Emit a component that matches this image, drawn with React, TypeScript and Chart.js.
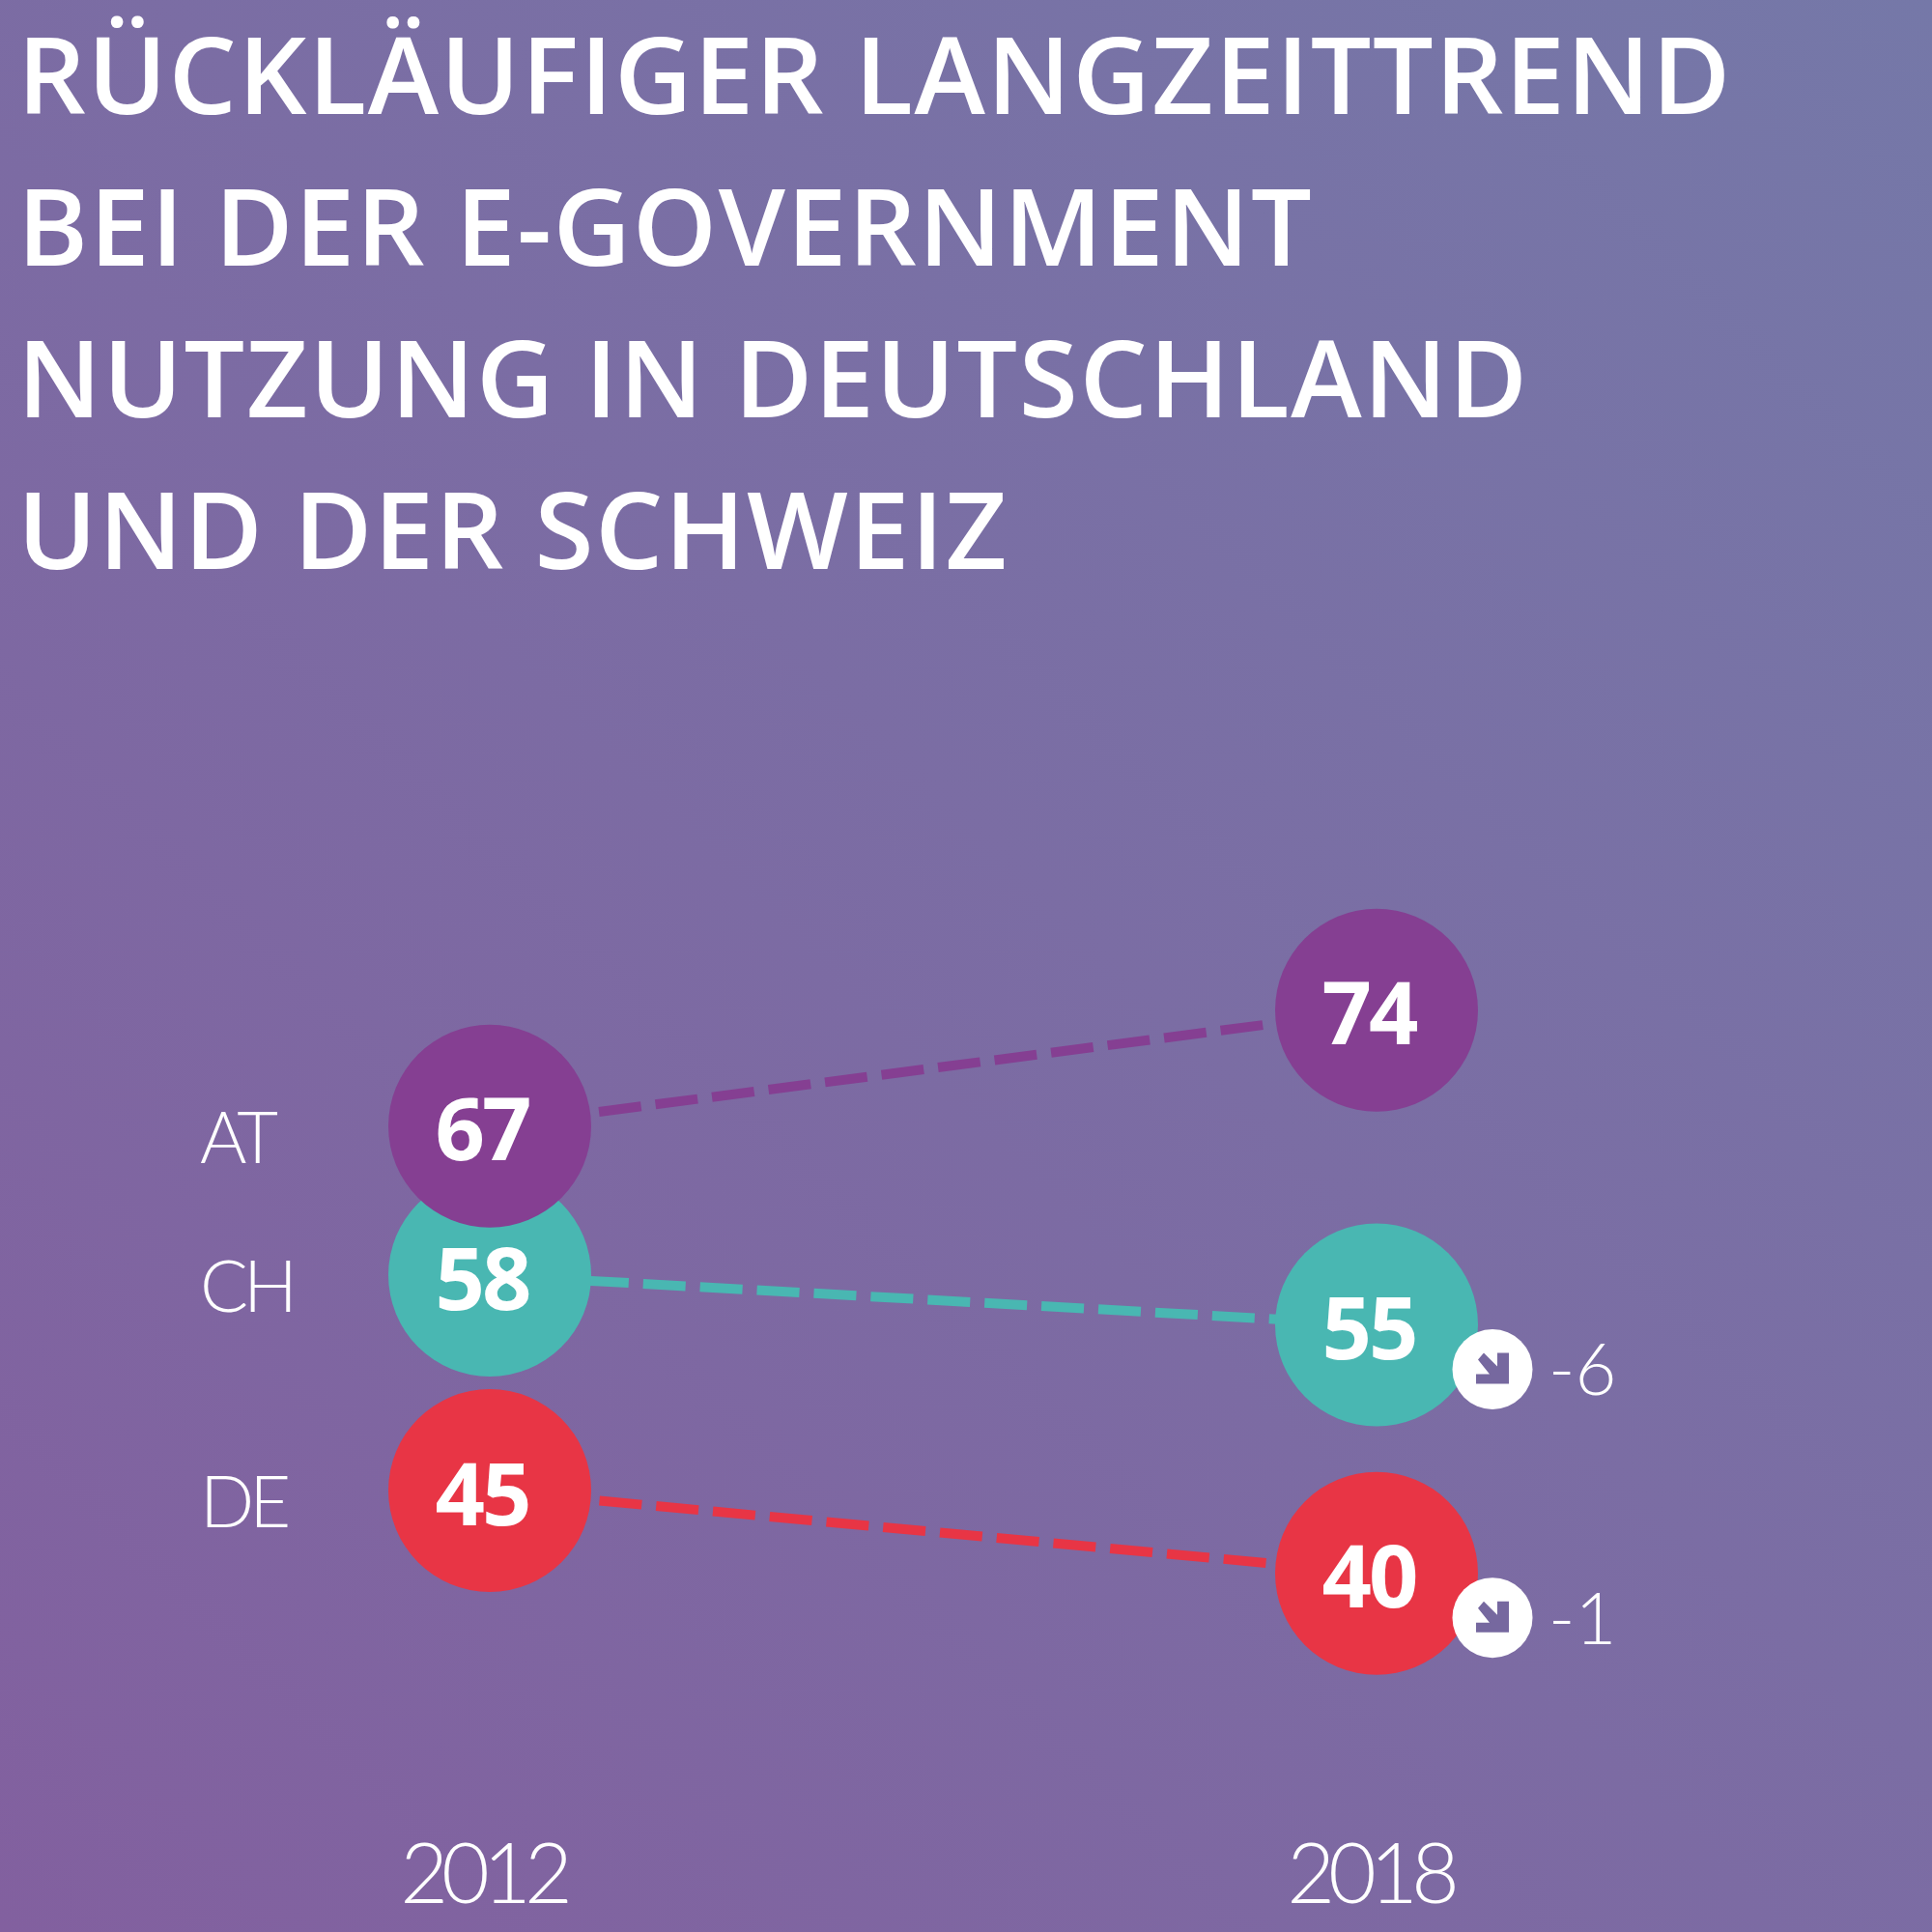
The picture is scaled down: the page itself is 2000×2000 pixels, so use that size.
import React, { useEffect, useRef } from "react";
import { Chart, registerables } from "chart.js";

Chart.register(...registerables);

const titleLines = [
  "RÜCKLÄUFIGER LANGZEITTREND",
  "BEI DER E-GOVERNMENT",
  "NUTZUNG IN DEUTSCHLAND",
  "UND DER SCHWEIZ",
];
const years = ["2012", "2018"];
const countries = ["AT", "CH", "DE"];
const atValues = [67, 74];
const chValues = [58, 55];
const deValues = [45, 40];
const deltas2018: (number | null)[] = [null, -6, -1];
const seriesColors = ["#853F92", "#49B7B2", "#E83545"];

const WHITE = "#FFFFFF";
const THIN = "Lato";
const BOLD = "'Open Sans'";

const markPlugin = {
  id: "marks",
  afterDatasetsDraw(chart: any) {
    const { ctx } = chart;
    ctx.save();
    chart.data.datasets.forEach((ds: any, i: number) => {
      const meta = chart.getDatasetMeta(i);
      const [p0, p1] = meta.data;
      // series name, left of the first point
      ctx.fillStyle = WHITE;
      ctx.textAlign = "left";
      ctx.textBaseline = "middle";
      ctx.font = `300 74px ${THIN}`;
      (ctx as any).letterSpacing = "-5px";
      ctx.fillText(ds.label, p0.x - 300, p0.y + 14);
      // value labels inside points
      ctx.textAlign = "center";
      ctx.font = `700 90px ${BOLD}`;
      (ctx as any).letterSpacing = "-3px";
      meta.data.forEach((p: any, k: number) => {
        ctx.fillText(String(ds.data[k]), p.x - 8, p.y + 10);
      });
      (ctx as any).letterSpacing = "0px";
      // change badge
      const d = deltas2018[i];
      if (d !== null) {
        const bx = p1.x + 120;
        const by = p1.y + 46;
        ctx.beginPath();
        ctx.arc(bx, by, 41.5, 0, Math.PI * 2);
        ctx.fillStyle = WHITE;
        ctx.fill();
        ctx.fillStyle = "#76689F";
        ctx.beginPath();
        ctx.moveTo(bx + 17, by - 17);
        ctx.lineTo(bx + 17, by + 15);
        ctx.lineTo(bx - 17, by + 15);
        ctx.lineTo(bx - 17, by + 5);
        ctx.lineTo(bx - 3, by + 5);
        ctx.lineTo(bx - 15, by - 10);
        ctx.lineTo(bx - 9, by - 17);
        ctx.lineTo(bx + 5, by - 3);
        ctx.lineTo(bx + 5, by - 17);
        ctx.closePath();
        ctx.fill();
        ctx.fillStyle = WHITE;
        ctx.textAlign = "left";
        ctx.font = `300 74px ${THIN}`;
        ctx.fillText(String(d), bx + 58, by + 3);
      }
    });
    ctx.restore();
  },
};

const backgroundPlugin = {
  id: "bg",
  beforeDraw(chart: any) {
    const { ctx, width, height } = chart;
    const g = ctx.createLinearGradient(0, height, width, 0);
    g.addColorStop(0, "#82609F");
    g.addColorStop(1, "#7578A8");
    ctx.save();
    ctx.fillStyle = g;
    ctx.fillRect(0, 0, width, height);
    ctx.restore();
    // tracking for the title, which is drawn right after this hook
    (ctx as any).letterSpacing = "1.6px";
  },
  beforeDatasetsDraw(chart: any) {
    // tracking for the year ticks, drawn right after the datasets
    (chart.ctx as any).letterSpacing = "-7px";
  },
};

function series(label: string, data: number[], color: string, dashOffset: number) {
  return {
    label,
    data,
    borderColor: color,
    backgroundColor: color,
    borderWidth: 10,
    borderDash: [44, 15],
    borderDashOffset: dashOffset,
    pointRadius: 105,
    pointHoverRadius: 105,
    pointBorderWidth: 0,
    pointBackgroundColor: color,
    tension: 0,
    clip: false,
  };
}

export default function App() {
  const ref = useRef<HTMLCanvasElement>(null);
  useEffect(() => {
    document.body.style.margin = "0";
    const chart = new Chart(ref.current!, {
      type: "line",
      data: {
        labels: years,
        datasets: [
          series(countries[0], atValues, seriesColors[0], 4),
          series(countries[1], chValues, seriesColors[1], 18),
          series(countries[2], deValues, seriesColors[2], 4),
        ],
      },
      options: {
        responsive: false,
        animation: false,
        layout: { autoPadding: false, padding: { left: 18, right: 116, top: 0, bottom: 0 } },
        plugins: {
          legend: { display: false },
          tooltip: { enabled: false },
          title: {
            display: true,
            text: titleLines,
            align: "start",
            color: WHITE,
            font: { family: "Open Sans", size: 111, weight: "600", lineHeight: 1.414 },
            padding: { top: 8, bottom: 67 },
          },
        },
        scales: {
          x: {
            type: "category",
            offset: true,
            border: { display: false },
            grid: { display: false },
            afterFit(scale: any) {
              scale.height = 97;
            },
            ticks: {
              color: WHITE,
              padding: -12,
              labelOffset: -7,
              z: 1,
              maxRotation: 0,
              font: { family: "Lato", size: 86, weight: "300", lineHeight: 1 },
            },
          },
          y: {
            min: 24,
            max: 94,
            border: { display: false },
            grid: { display: false },
            ticks: { display: false },
            afterFit(scale: any) {
              scale.width = 30;
            },
          },
        },
      },
      plugins: [backgroundPlugin, markPlugin],
    } as any);
    return () => chart.destroy();
  }, []);
  return <canvas ref={ref} width={2000} height={2000} style={{ display: "block", width: 2000, height: 2000 }} />;
}
